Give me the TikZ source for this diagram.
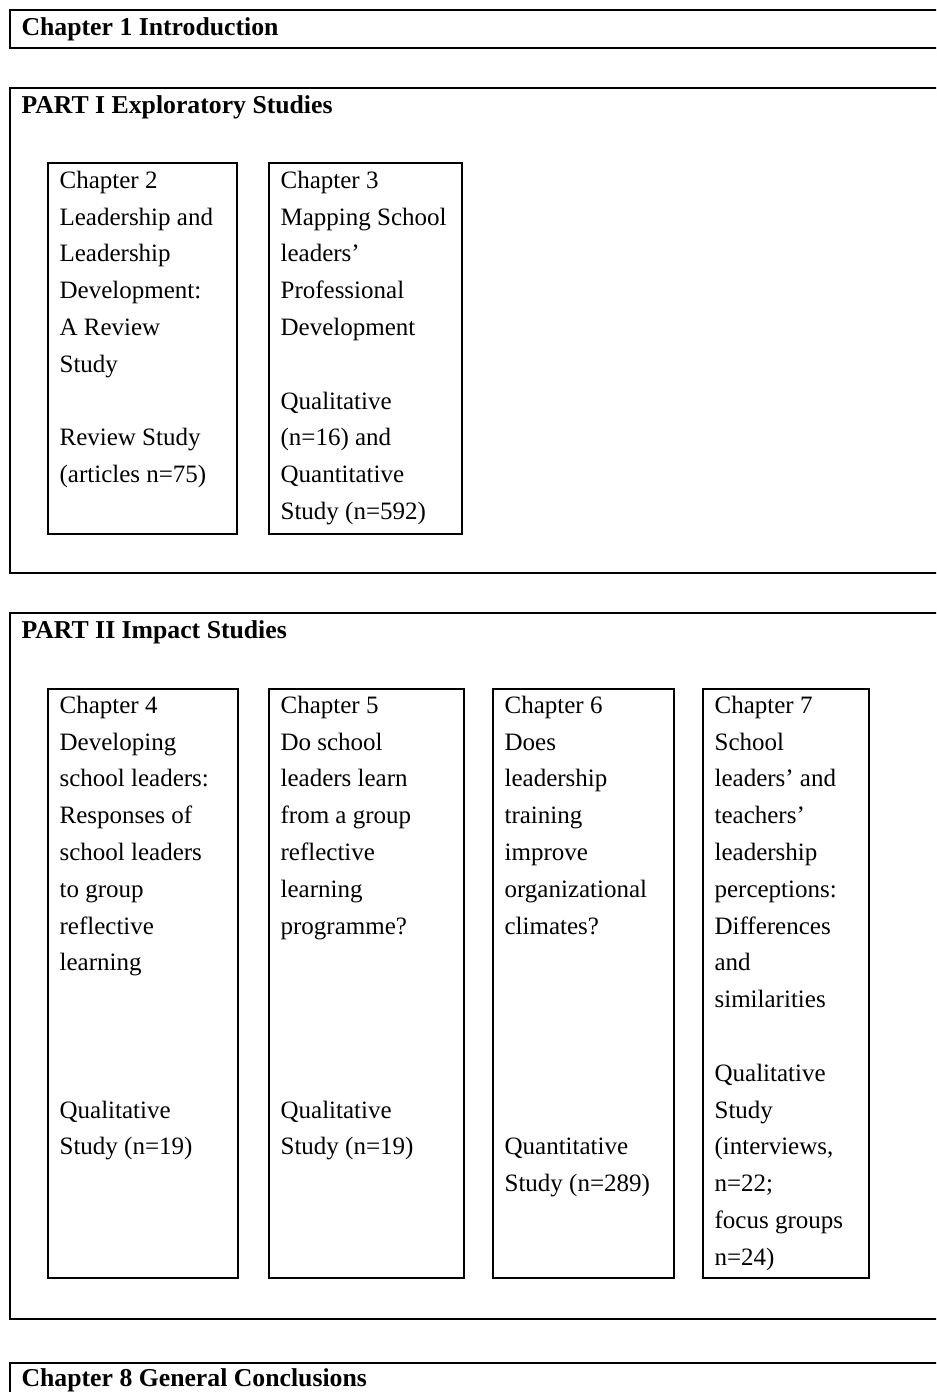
\documentclass[tikz,border=0pt]{standalone}
\usepackage{fontspec}
\setmainfont{Liberation Serif}
\usetikzlibrary{fit,calc}
% stacked lines, baseline of the block = baseline of its first line
\newcommand\stacklines[1]{\begin{tabular}[t]{@{}l@{}}#1\end{tabular}}
\begin{document}
\begin{tikzpicture}[x=0.75pt,y=-0.75pt,
  frame/.style={draw, line width=1pt, inner sep=0pt},
  entry/.style={anchor=base west, inner sep=0pt, font=\fontsize{18.75pt}{27.6pt}\selectfont},
  heading/.style={entry, font=\fontsize{19.3pt}{27.6pt}\selectfont\bfseries}]
\useasboundingbox (0,0) rectangle (936,1392);
\clip (0,0) rectangle (936,1392);

% outer frames (they run on past the right edge)
\node[frame, fit={(10,10) (960,48)}] (intro) {};
\node[frame, fit={(10,88) (960,573)}] (part1) {};
\node[frame, fit={(10,613) (960,1319)}] (part2) {};
\node[frame, fit={(10,1363) (960,1420)}] (concl) {};

\node[heading] (intro-t) at ($(intro.north west)+(12,26)$) {Chapter 1 Introduction};
\node[heading] (part1-t) at ($(part1.north west)+(12,26)$) {PART I Exploratory Studies};
\node[heading] (part2-t) at ($(part2.north west)+(12,26)$) {PART II Impact Studies};
\node[heading] (concl-t) at ($(concl.north west)+(12,24)$) {Chapter 8 General Conclusions};

% Part I chapters
\node[frame, fit={(48,163) (237,534)}] (c2) {};
\node[frame, fit={(269,163) (462,534)}] (c3) {};
\node[entry] (c2-t) at ($(c2.north west)+(12,26)$) {\stacklines{
  Chapter 2\\ Leadership and\\ Leadership\\ Development:\\ A Review\\ Study\\ \\
  Review Study\\ (articles n=75)}};
\node[entry] (c3-t) at ($(c3.north west)+(12,26)$) {\stacklines{
  Chapter 3\\ Mapping School\\ leaders’\\ Professional\\ Development\\ \\
  Qualitative\\ (n=16) and\\ Quantitative\\ Study (n=592)}};

% Part II chapters
\node[frame, fit={(48,689) (238,1278)}] (c4) {};
\node[frame, fit={(269,689) (464,1278)}] (c5) {};
\node[frame, fit={(493,689) (674,1278)}] (c6) {};
\node[frame, fit={(703,689) (869,1278)}] (c7) {};
\node[entry] (c4-t) at ($(c4.north west)+(12,25)$) {\stacklines{
  Chapter 4\\ Developing\\ school leaders:\\ Responses of\\ school leaders\\ to group\\
  reflective\\ learning\\ \\ \\ \\ Qualitative\\ Study (n=19)}};
\node[entry] (c5-t) at ($(c5.north west)+(12,25)$) {\stacklines{
  Chapter 5\\ Do school\\ leaders learn\\ from a group\\ reflective\\ learning\\
  programme?\\ \\ \\ \\ \\ Qualitative\\ Study (n=19)}};
\node[entry] (c6-t) at ($(c6.north west)+(12,25)$) {\stacklines{
  Chapter 6\\ Does\\ leadership\\ training\\ improve\\ organizational\\ climates?\\
  \\ \\ \\ \\ \\ Quantitative\\ Study (n=289)}};
\node[entry] (c7-t) at ($(c7.north west)+(12,25)$) {\stacklines{
  Chapter 7\\ School\\ leaders’ and\\ teachers’\\ leadership\\ perceptions:\\
  Differences\\ and\\ similarities\\ \\ Qualitative\\ Study\\ (interviews,\\
  n=22;\\ focus groups\\ n=24)}};
\end{tikzpicture}
\end{document}
